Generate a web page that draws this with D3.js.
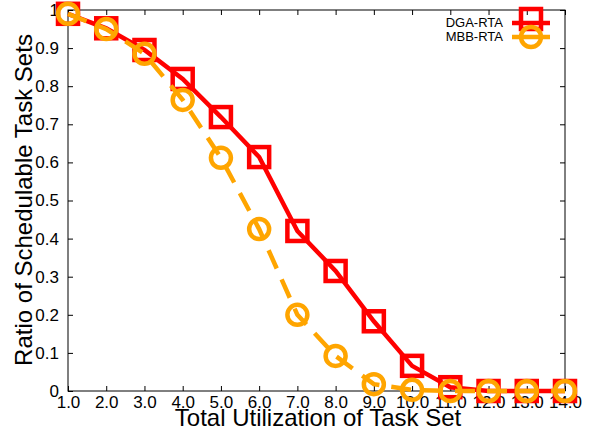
<!DOCTYPE html>
<html lang="en">
<head>
<meta charset="UTF-8">
<title>Schedulability</title>
<style>
  body { margin: 0; background: #fff; }
  text { font-family: 'Liberation Sans', Arial, sans-serif; }
</style>
</head>
<body>
<svg id="svg" width="593" height="431"></svg>
<script src="https://d3js.org/d3.v7.min.js"></script>
<script>
// data
const utilization = [1, 2, 3, 4, 5, 6, 7, 8, 9, 10, 11, 12, 13, 14]
const dgaRta = [0.99, 0.952, 0.895, 0.819, 0.719, 0.614, 0.42, 0.315, 0.183, 0.066, 0.01, 0, 0, 0]
const mbbRta = [0.99, 0.95, 0.885, 0.764, 0.612, 0.425, 0.2, 0.092, 0.018, 0.003, 0, 0, 0, 0]
const xTicks = [1, 2, 3, 4, 5, 6, 7, 8, 9, 10, 11, 12, 13, 14]
const yTicks = [0, 0.1, 0.2, 0.3, 0.4, 0.5, 0.6, 0.7, 0.8, 0.9, 1]

const svg = d3.select('#svg')
const plotLeft = 68, plotRight = 565, plotTop = 10, plotBottom = 391

const xScale = d3.scaleLinear().domain([1, 14]).range([plotLeft, plotRight])
const yScale = d3.scaleLinear().domain([0, 1]).range([plotBottom, plotTop])

// frame
svg.append('rect')
  .attr('x', plotLeft).attr('y', plotTop)
  .attr('width', plotRight - plotLeft).attr('height', plotBottom - plotTop)
  .attr('fill', 'none').attr('stroke', '#000').attr('stroke-width', 1)

// axes (ticks inward)
const xAxis = d3.axisBottom(xScale).tickValues(xTicks).tickSize(-5).tickPadding(5)
  .tickFormat(d => d.toFixed(1))
const gx = svg.append('g').attr('transform', `translate(0,${plotBottom})`).call(xAxis)
gx.select('.domain').remove()
gx.selectAll('text').attr('font-size', 17).attr('fill', '#000')
  .attr('font-family', 'Liberation Sans, Arial, sans-serif')

const xTop = d3.axisTop(xScale).tickValues(xTicks).tickSize(-5).tickFormat('')
const gxt = svg.append('g').attr('transform', `translate(0,${plotTop})`).call(xTop)
gxt.select('.domain').remove()

const yAxis = d3.axisLeft(yScale).tickValues(yTicks).tickSize(-5).tickPadding(9)
  .tickFormat(d => d === 0 ? '0' : d === 1 ? '1' : d.toFixed(1))
const gy = svg.append('g').attr('transform', `translate(${plotLeft},0)`).call(yAxis)
gy.select('.domain').remove()
gy.selectAll('text').attr('font-size', 17).attr('fill', '#000')
  .attr('font-family', 'Liberation Sans, Arial, sans-serif')

const yRight = d3.axisRight(yScale).tickValues(yTicks).tickSize(-5).tickFormat('')
const gyr = svg.append('g').attr('transform', `translate(${plotRight},0)`).call(yRight)
gyr.select('.domain').remove()

// axis titles
svg.append('text')
  .attr('x', 318).attr('y', 426)
  .attr('text-anchor', 'middle')
  .style('font-size', '24px')
  .text('Total Utilization of Task Set')
svg.append('text')
  .attr('transform', 'translate(32,200) rotate(-90)')
  .attr('text-anchor', 'middle')
  .style('font-size', '24px')
  .text('Ratio of Schedulable Task Sets')

// series
const series = [
  { name: 'DGA-RTA', values: dgaRta, color: '#ff0000', dash: null, marker: 'square' },
  { name: 'MBB-RTA', values: mbbRta, color: '#ffa500', dash: '20,12', marker: 'circle' }
]

const line = d3.line().x(d => xScale(d[0])).y(d => yScale(d[1]))

function drawMarker(g, type, x, y, color) {
  if (type === 'square') {
    g.append('rect')
      .attr('x', x - 10).attr('y', y - 10)
      .attr('width', 20).attr('height', 20)
      .attr('fill', 'none').attr('stroke', color).attr('stroke-width', 4.5)
  } else {
    g.append('circle')
      .attr('cx', x).attr('cy', y).attr('r', 10)
      .attr('fill', 'none').attr('stroke', color).attr('stroke-width', 4.5)
  }
}

series.forEach((s, si) => {
  const pts = utilization.map((u, i) => [u, s.values[i]])
  const g = svg.append('g')
  g.append('path')
    .attr('d', line(pts))
    .attr('fill', 'none')
    .attr('stroke', s.color)
    .attr('stroke-width', 4.5)
    .attr('stroke-dasharray', s.dash)
  pts.forEach(p => drawMarker(g, s.marker, xScale(p[0]), yScale(p[1]), s.color))

  // legend
  const ly = 23 + si * 14
  svg.append('text')
    .attr('x', 503).attr('y', ly + 4)
    .attr('text-anchor', 'end')
    .style('font-size', '13px')
    .text(s.name)
  svg.append('line')
    .attr('x1', 512).attr('x2', 550).attr('y1', ly).attr('y2', ly)
    .attr('stroke', s.color).attr('stroke-width', 4.5)
  drawMarker(svg, s.marker, 531, ly - (si === 0 ? 4 : 0), s.color)
})
</script>
</body>
</html>
